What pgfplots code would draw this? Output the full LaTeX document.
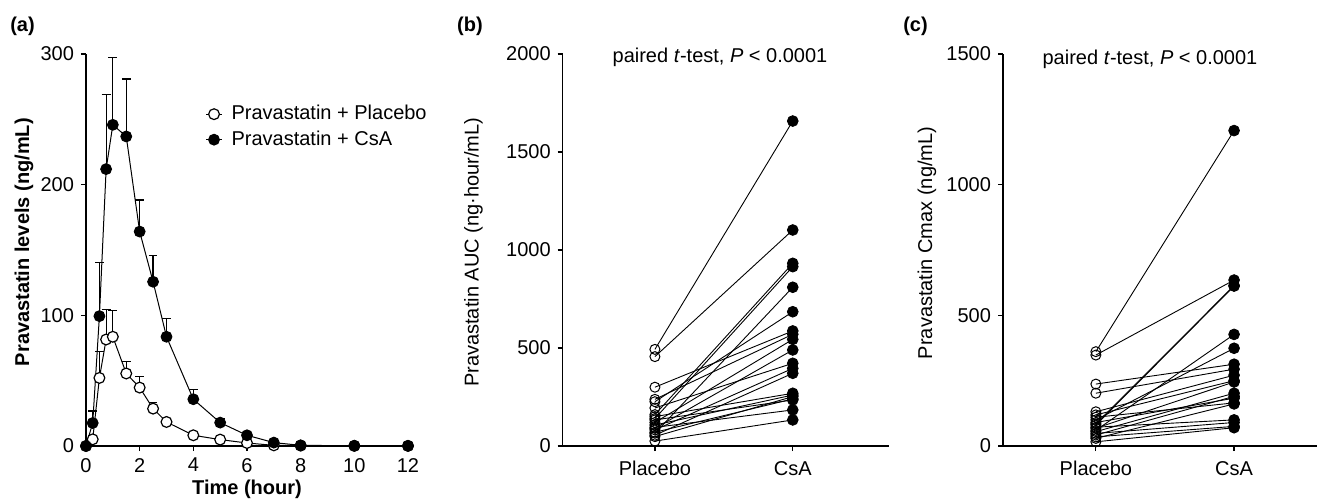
\documentclass[border=0pt]{standalone}
\usepackage{fontspec}
\setmainfont{Liberation Sans}
\usepackage{pgfplots}
\usepackage{pgfplotstable}
\pgfplotsset{compat=1.18}

% mean concentration (ng/mL) and upper SD, panel (a)
\pgfplotstableread{
t    pl    plerr csa   csaerr
0    0     0     0     0
0.25 5.1   2.5   17.6  9.2
0.5  52.1  20.5  99.4  40.9
0.75 81.5  23.0  211.9 56.9
1    83.6  19.9  245.8 51.4
1.5  55.5  9.4   236.9 44.0
2    44.7  8.2   164.1 24.2
2.5  28.6  4.6   125.7 20.0
3    18.4  0     83.6  14.0
4    8.2   0     35.8  7.4
5    4.9   0     17.9  3.1
6    2.3   0     8.2   2.0
7    0.5   0     2.6   1.2
8    0.3   0     0.5   0
10   0.1   0     0.2   0
12   0.1   0     0.1   0
}\pk

% AUC per subject, panel (b)
\pgfplotstableread{
pl  csa
493 1658
456 1102
160 932
140 915
65  810
226 685
300 587
238 570
120 544
90  490
194 422
82  396
55  371
150 269
107 260
48  252
70  240
133 235
95  184
25  133
}\auc

% Cmax per subject, panel (c)
\pgfplotstableread{
pl  csa
361 1207
348 635
85  614
80  612
60  427
100 374
237 313
202 294
131 271
119 250
68  245
55  202
42  190
90  183
29  161
110 165
72  100
48  90
35  75
16  70
}\cmax

\pgfplotsset{
  panel/.style={
    scale only axis, height=196pt, anchor=south west,
    axis x line=bottom, axis y line=left,
    axis line style={-, line width=0.6pt},
    every outer x axis line/.append style={-},
    every outer y axis line/.append style={-},
    tick style={line width=0.6pt, black},
    tick align=outside, major tick length=2.5pt,
    /pgf/number format/assume math mode=true,
    /pgf/number format/1000 sep={},
    ymin=0, clip=false,
  },
  pair/.style={
    panel, xtick={0,1}, xticklabels={Placebo,CsA},
    xticklabel style={yshift=-1.5pt},
    title style={anchor=center},
  },
  sdbar/.style={
    error bars/.cd, y dir=plus, y explicit,
    error bar style={line width=0.6pt},
    error mark options={rotate=90, mark size=2.2pt, line width=0.6pt},
  },
}

\begin{document}
\begin{tikzpicture}
\useasboundingbox (0,0) rectangle (658.5pt,249pt);

\begin{axis}[panel, at={(43pt,26pt)}, width=161pt,
  xmin=0, xmax=12, ymax=300,
  xtick={0,2,...,12}, ytick={0,100,200,300},
  xlabel={\bfseries Time (hour)},
  ylabel={\bfseries Pravastatin levels (ng/mL)},
  xlabel style={at={(axis description cs:0.5,-0.11)}, anchor=center},
  ylabel style={at={(axis description cs:-0.1925,0.52)}, anchor=center},
  legend style={at={(axis description cs:0.37,0.88)}, anchor=north west,
    draw=none, fill=none, inner sep=0pt, row sep=0pt,
    /tikz/every odd column/.append style={column sep=2.5pt}},
  legend cell align=left,
  legend image code/.code={\draw[mark repeat=2,mark phase=2]
    plot coordinates {(0pt,0pt) (4pt,0pt) (8pt,0pt)};},
]
\addplot[black, line width=0.5pt, mark=*, mark size=2.7pt,
  mark options={fill=white, line width=0.6pt}, sdbar]
  table[x=t, y=pl, y error=plerr] {\pk};
\addlegendentry{Pravastatin + Placebo}
\addplot[black, line width=0.5pt, mark=*, mark size=2.7pt,
  mark options={fill=black}, sdbar]
  table[x=t, y=csa, y error=csaerr] {\pk};
\addlegendentry{Pravastatin + CsA}
\end{axis}

\begin{axis}[pair, at={(281.35pt,26pt)}, width=163pt,
  xmin=-0.669, xmax=1.696, ymax=2000, ytick={0,500,...,2000},
  ylabel={Pravastatin AUC (ng·hour/mL)},
  ylabel style={at={(axis description cs:-0.274,0.494)}, anchor=center},
  title={paired \textit{t}-test, \textit{P} < 0.0001},
  title style={at={(axis description cs:0.4825,0.962)}},
]
\addplot[black, line width=0.45pt, quiver={u=1, v=\thisrow{csa}-\thisrow{pl}}]
  table[x expr=0, y=pl] {\auc};
\addplot[only marks, mark=o, mark size=2.5pt, black, mark options={line width=0.5pt}]
  table[x expr=0, y=pl] {\auc};
\addplot[only marks, mark=*, mark size=2.7pt, black]
  table[x expr=1, y=csa] {\auc};
\end{axis}

\begin{axis}[pair, at={(501.5pt,26pt)}, width=157pt,
  xmin=-0.672, xmax=1.6, ymax=1500, ytick={0,500,1000,1500},
  ylabel={Pravastatin Cmax (ng/mL)},
  ylabel style={at={(axis description cs:-0.242,0.518)}, anchor=center},
  title={paired \textit{t}-test, \textit{P} < 0.0001},
  title style={at={(axis description cs:0.468,0.957)}},
]
\addplot[black, line width=0.45pt, quiver={u=1, v=\thisrow{csa}-\thisrow{pl}}]
  table[x expr=0, y=pl] {\cmax};
\addplot[only marks, mark=o, mark size=2.5pt, black, mark options={line width=0.5pt}]
  table[x expr=0, y=pl] {\cmax};
\addplot[only marks, mark=*, mark size=2.7pt, black]
  table[x expr=1, y=csa] {\cmax};
\end{axis}

\node[font=\bfseries] at (11.25pt,235.75pt) {(a)};
\node[font=\bfseries] at (235pt,236pt) {(b)};
\node[font=\bfseries] at (457.75pt,236pt) {(c)};
\end{tikzpicture}
\end{document}
